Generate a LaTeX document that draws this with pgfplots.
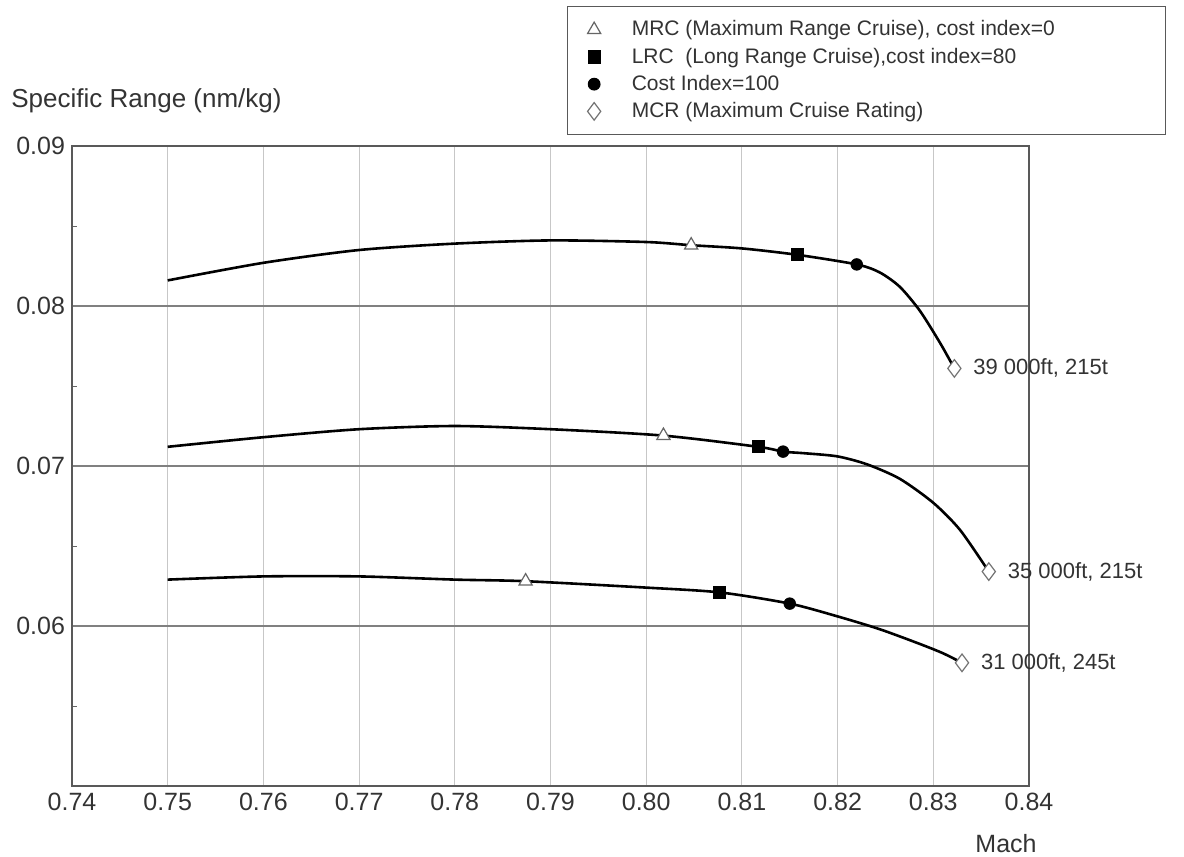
\documentclass[border=0pt]{standalone}
\usepackage{fontspec}
\setmainfont{Liberation Sans}
\usepackage{pgfplots}
\pgfplotsset{compat=1.18}
\definecolor{txt}{HTML}{333333}
\begin{document}
\begin{tikzpicture}
\path[use as bounding box] (0,0) rectangle (592pt,-428.5pt);
\begin{axis}[
  at={(36pt,-393pt)}, anchor=south west,
  width=478.5pt, height=320pt, scale only axis,
  xmin=0.74, xmax=0.84, ymin=0.05, ymax=0.09,
  clip=false, scaled ticks=false,
  xtick={0.74,0.75,0.76,0.77,0.78,0.79,0.80,0.81,0.82,0.83,0.84},
  xticklabels={0.74,0.75,0.76,0.77,0.78,0.79,0.80,0.81,0.82,0.83,0.84},
  ytick={0.06,0.07,0.08,0.09},
  yticklabels={0.06,0.07,0.08,0.09},
  minor ytick={0.055,0.065,0.075,0.085},
  major tick length=0pt, minor tick length=2.5pt,
  tick align=inside, ytick pos=left, xtick pos=bottom,
  minor tick style={black!60, line width=0.5pt},
  xmajorgrids, ymajorgrids,
  x grid style={black!22, line width=0.5pt},
  y grid style={black!50, line width=0.7pt},
  axis line style={black!65, line width=0.8pt},
  ticklabel style={font=\fontsize{12.5}{14}\selectfont, text=txt},
  legend cell align=left,
  legend style={at={(axis description cs:0.5172,1.21875)}, anchor=north west,
    draw=black!65, line width=0.6pt, font=\fontsize{10.5}{12}\selectfont,
    text=txt, row sep=0.5pt, inner ysep=5pt, inner xsep=10pt,
    /tikz/every odd column/.append style={column sep=13.5pt}},
]
% curves
\addplot[black, line width=1.3pt, smooth, tension=0.45, forget plot] coordinates {
 (0.750,0.0816) (0.760,0.0827) (0.770,0.0835) (0.780,0.0839) (0.790,0.0841)
 (0.800,0.0840) (0.8047,0.0838) (0.810,0.0836) (0.8158,0.0832) (0.8220,0.0826)
 (0.8244,0.0821) (0.8265,0.0812) (0.8286,0.0797) (0.8307,0.0777) (0.8322,0.0761)};
\addplot[black, line width=1.3pt, smooth, tension=0.45, forget plot] coordinates {
 (0.750,0.0712) (0.760,0.0718) (0.770,0.0723) (0.780,0.0725) (0.790,0.0723)
 (0.8018,0.0719) (0.8117,0.0712) (0.8143,0.0709) (0.8165,0.0708) (0.8200,0.0706)
 (0.8231,0.0701) (0.8265,0.0692) (0.8300,0.0677) (0.8328,0.0660) (0.8358,0.0634)};
\addplot[black, line width=1.3pt, smooth, tension=0.45, forget plot] coordinates {
 (0.750,0.0629) (0.760,0.0631) (0.770,0.0631) (0.780,0.0629) (0.7874,0.0628)
 (0.800,0.0624) (0.8077,0.0621) (0.8150,0.0614) (0.8200,0.0606) (0.8244,0.0598)
 (0.8285,0.0589) (0.8310,0.0583) (0.8330,0.0577)};
% markers
\addplot[only marks, mark=triangle*, mark size=3.8pt,
  mark options={fill=white, draw=black!60, line width=0.6pt}]
  coordinates {(0.8047,0.0838) (0.8018,0.0719) (0.7874,0.0628)};
\addlegendentry{\makebox[255pt][l]{MRC (Maximum Range Cruise), cost index=0}}
\addplot[only marks, mark=square*, mark size=3pt,
  mark options={fill=black, draw=black}]
  coordinates {(0.8158,0.0832) (0.8117,0.0712) (0.8077,0.0621)};
\addlegendentry{LRC\ \ (Long Range Cruise),cost index=80}
\addplot[only marks, mark=*, mark size=2.9pt,
  mark options={fill=black, draw=black}]
  coordinates {(0.8220,0.0826) (0.8143,0.0709) (0.8150,0.0614)};
\addlegendentry{Cost Index=100}
\addplot[only marks, mark=diamond*, mark size=4.4pt,
  mark options={fill=white, draw=black!55, line width=0.6pt}]
  coordinates {(0.8322,0.0761) (0.8358,0.0634) (0.8330,0.0577)};
\addlegendentry{MCR (Maximum Cruise Rating)}
% curve labels
\node[anchor=west, xshift=6pt, font=\fontsize{11}{13}\selectfont, text=txt]
  at (axis cs:0.8322,0.0761) {39 000ft, 215t};
\node[anchor=west, xshift=6pt, font=\fontsize{11}{13}\selectfont, text=txt]
  at (axis cs:0.8358,0.0634) {35 000ft, 215t};
\node[anchor=west, xshift=6pt, font=\fontsize{11}{13}\selectfont, text=txt]
  at (axis cs:0.8330,0.0577) {31 000ft, 245t};
\end{axis}
\node[anchor=base west, inner sep=0pt, font=\fontsize{13}{15}\selectfont, text=txt]
  at (5.5pt,-53.5pt) {Specific Range (nm/kg)};
\node[anchor=base, inner sep=0pt, font=\fontsize{12.5}{14}\selectfont, text=txt]
  at (503pt,-426pt) {Mach};
\end{tikzpicture}
\end{document}
